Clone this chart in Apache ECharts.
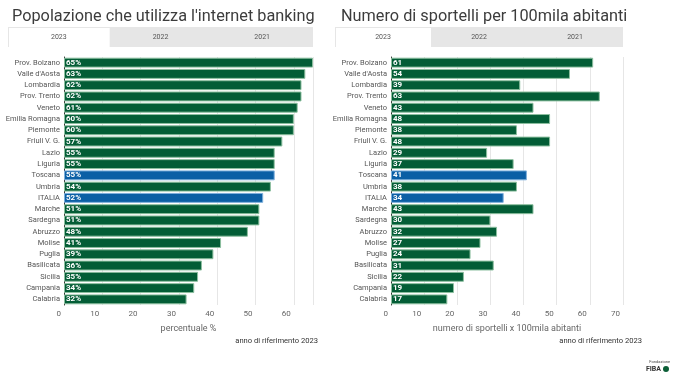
<!DOCTYPE html>
<html>
<head>
<meta charset="utf-8">
<script src="https://cdn.jsdelivr.net/npm/echarts@6/dist/echarts.min.js"></script>
<style>
  html, body { margin: 0; padding: 0; background: #fff; }
  #chart { width: 675px; height: 375px; }
</style>
</head>
<body>
<div id="chart"></div>
<script>
// regioni, ordinate come nel grafico
const regioni = ['Prov. Bolzano', "Valle d'Aosta", 'Lombardia', 'Prov. Trento', 'Veneto', 'Emilia Romagna', 'Piemonte', 'Friuli V. G.', 'Lazio', 'Liguria', 'Toscana', 'Umbria', 'ITALIA', 'Marche', 'Sardegna', 'Abruzzo', 'Molise', 'Puglia', 'Basilicata', 'Sicilia', 'Campania', 'Calabria'];
const internetBanking = [65, 63, 62, 62, 61, 60, 60, 57, 55, 55, 55, 54, 52, 51, 51, 48, 41, 39, 36, 35, 34, 32];
const sportelli = [61, 54, 39, 63, 43, 48, 38, 48, 29, 37, 41, 38, 34, 43, 30, 32, 27, 24, 31, 22, 19, 17];
const evidenziate = ['Toscana', 'ITALIA'];
const anni = ['2023', '2022', '2021'];

const VERDE = '#035d36';
const BLU = '#0b5fa5';
const FONT = 'Roboto, "Noto Sans", sans-serif';

const chart = echarts.init(document.getElementById('chart'));

function barData(values) {
  return values.map((v, i) => {
    let hl = evidenziate.includes(regioni[i]);
    return {
      value: v,
      itemStyle: {color: hl? BLU: VERDE, borderColor: hl? '#7fb0db': '#8cbf9f'}
    };
  });
}

function tabs(x, w) {
  let tw = w / 3;
  let items = [{
    type: 'rect', left: x, top: 27, shape: {width: w, height: 20},
    style: {fill: '#e6e6e6'}, silent: true
  }, {
    type: 'rect', left: x + 1, top: 28, shape: {width: tw - 1, height: 19},
    style: {fill: '#fff'}, silent: true
  }];
  anni.forEach((a, i) => {
    items.push({
      type: 'text', x: x + tw * i + tw / 2, y: 37,
      style: {text: a, fill: '#555', font: '7px ' + FONT, align: 'center', verticalAlign: 'middle'}
    });
  });
  return items;
}

const yAxisBase = {
  type: 'category', data: regioni, inverse: true,
  axisLine: {show: true, lineStyle: {color: '#333', width: 1}},
  axisTick: {show: false},
  axisLabel: {color: '#555', fontSize: 7.5, fontFamily: FONT, margin: 4}
};

const xAxisBase = {
  type: 'value', min: 0, interval: 10,
  axisLine: {show: false}, axisTick: {show: false},
  splitLine: {lineStyle: {color: '#e6e6e6'}},
  nameLocation: 'middle', nameGap: 19,
  nameTextStyle: {color: '#666', fontSize: 9, fontFamily: FONT},
  axisLabel: {color: '#666', fontSize: 8, fontFamily: FONT, align: 'right', padding: [0, 3, 0, 0], margin: 5}
};

const labelBase = {
  show: true, position: 'insideLeft', distance: 2,
  color: '#fff', fontWeight: 'bold', fontSize: 8, fontFamily: FONT
};

chart.setOption({
  animation: false,
  title: [{
    text: "Popolazione che utilizza l'internet banking", left: 7, top: 4,
    textStyle: {color: '#3c3c3c', fontSize: 16.3, fontWeight: 'normal', fontFamily: FONT}
  }, {
    text: 'Numero di sportelli per 100mila abitanti', left: 336, top: 4,
    textStyle: {color: '#3c3c3c', fontSize: 16.3, fontWeight: 'normal', fontFamily: FONT}
  }],
  grid: [
    {left: 64, width: 249, top: 57, height: 248},
    {left: 391, width: 232, top: 57, height: 248}
  ],
  xAxis: [
    Object.assign({}, xAxisBase, {gridIndex: 0, max: 65, name: 'percentuale %',
      axisLabel: Object.assign({}, xAxisBase.axisLabel, {showMaxLabel: false})}),
    Object.assign({}, xAxisBase, {gridIndex: 1, max: 70, name: 'numero di sportelli x 100mila abitanti'})
  ],
  yAxis: [
    Object.assign({}, yAxisBase, {gridIndex: 0}),
    Object.assign({}, yAxisBase, {gridIndex: 1})
  ],
  series: [{
    type: 'bar', xAxisIndex: 0, yAxisIndex: 0, barCategoryGap: '12%',
    data: barData(internetBanking),
    itemStyle: {borderWidth: 1},
    label: Object.assign({}, labelBase, {formatter: '{c}%'})
  }, {
    type: 'bar', xAxisIndex: 1, yAxisIndex: 1, barCategoryGap: '12%',
    data: barData(sportelli),
    itemStyle: {borderWidth: 1},
    label: Object.assign({}, labelBase, {formatter: '{c}'})
  }],
  graphic: [
    ...tabs(8, 305),
    ...tabs(335, 288),
    {type: 'text', x: 318, y: 341, style: {text: 'anno di riferimento 2023', fill: '#333', font: '7.6px ' + FONT, align: 'right', verticalAlign: 'middle'}},
    {type: 'text', x: 642, y: 341, style: {text: 'anno di riferimento 2023', fill: '#333', font: '7.6px ' + FONT, align: 'right', verticalAlign: 'middle'}},
    {type: 'text', x: 670, y: 362, style: {text: 'Fondazione', fill: '#444', font: '4px ' + FONT, align: 'right', verticalAlign: 'middle'}},
    {type: 'text', x: 661, y: 369, style: {text: 'FIBA', fill: '#333', font: 'bold 7px ' + FONT, align: 'right', verticalAlign: 'middle'}},
    {type: 'circle', shape: {cx: 666, cy: 369, r: 3}, style: {fill: '#0b5e36'}}
  ]
});
</script>
</body>
</html>
